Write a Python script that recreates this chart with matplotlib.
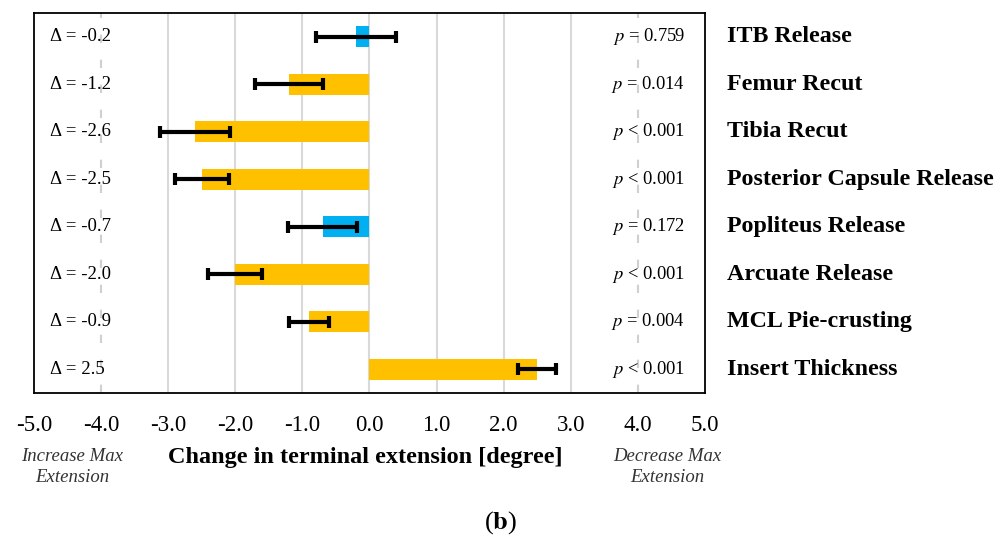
import matplotlib
matplotlib.use("Agg")
import matplotlib.pyplot as plt

plt.rcParams["font.family"] = ["Liberation Serif", "DejaVu Serif"]
plt.rcParams["mathtext.fontset"] = "stix"

# data
categories = ["ITB Release", "Femur Recut", "Tibia Recut", "Posterior Capsule Release",
              "Popliteus Release", "Arcuate Release", "MCL Pie-crusting", "Insert Thickness"]
deltas = [-0.2, -1.2, -2.6, -2.5, -0.7, -2.0, -0.9, 2.5]
errors = [0.6, 0.5, 0.52, 0.4, 0.52, 0.4, 0.3, 0.28]
p_labels = ["= 0.759", "= 0.014", "< 0.001", "< 0.001", "= 0.172", "< 0.001", "= 0.004", "< 0.001"]
significant = [False, True, True, True, False, True, True, True]
xticks = [-5, -4, -3, -2, -1, 0, 1, 2, 3, 4, 5]

orange = "#FFC000"
blue = "#00B0F0"

fig = plt.figure(figsize=(10.08, 5.38), dpi=100)
ax = fig.add_axes([0.0337, 0.2695, 0.6657, 0.7063])

ypos = list(range(len(categories)))
colors = [orange if s else blue for s in significant]

# grid
for x in [-3, -2, -1, 0, 1, 2, 3]:
    ax.axvline(x, color="#D9D9D9", lw=1.5, zorder=0)
for x in [-4, 4]:
    ax.axvline(x, color="#D0D0D0", lw=1.5, ls=(0, (4, 8)), zorder=0)

ax.barh(ypos, deltas, height=0.45, color=colors, zorder=2)
ax.errorbar(deltas, ypos, xerr=errors, fmt="none", ecolor="black",
            elinewidth=3, capsize=4, capthick=3, zorder=3)

for y, d, p, c in zip(ypos, deltas, p_labels, categories):
    ax.text(-4.76, y, "\u0394 = %.1f" % d, ha="left", va="center", fontsize=13.5)
    ax.text(4.7, y, "$p$ " + p, ha="right", va="center", fontsize=13.3)
    ax.text(5.33, y, c, ha="left", va="center", fontsize=17.3, fontweight="bold",
            clip_on=False)

ax.set_xlim(-5, 5)
ax.set_ylim(len(categories) - 0.5, -0.5)
ax.set_yticks([])
ax.set_xticks(xticks)
ax.set_xticklabels(["%.1f" % t for t in xticks], fontsize=16.5)
ax.tick_params(axis="x", length=0, pad=16)
for s in ax.spines.values():
    s.set_linewidth(1.3)

fig.text(365 / 1008, 1 - 457 / 538, "Change in terminal extension [degree]",
         ha="center", va="center", fontsize=17.5, fontweight="bold")

fig.text(72 / 1008, 1 - 467 / 538, "Increase Max\nExtension", ha="center", va="center",
         fontsize=13.5, style="italic", color="#333333", linespacing=1.35)
fig.text(667 / 1008, 1 - 467 / 538, "Decrease Max\nExtension", ha="center", va="center",
         fontsize=13.5, style="italic", color="#333333", linespacing=1.35)

fig.text(501 / 1008, 1 - 523 / 538, r"($\mathbf{b}$)", ha="center", va="center", fontsize=19)

fig.savefig("out.png", dpi=100)
